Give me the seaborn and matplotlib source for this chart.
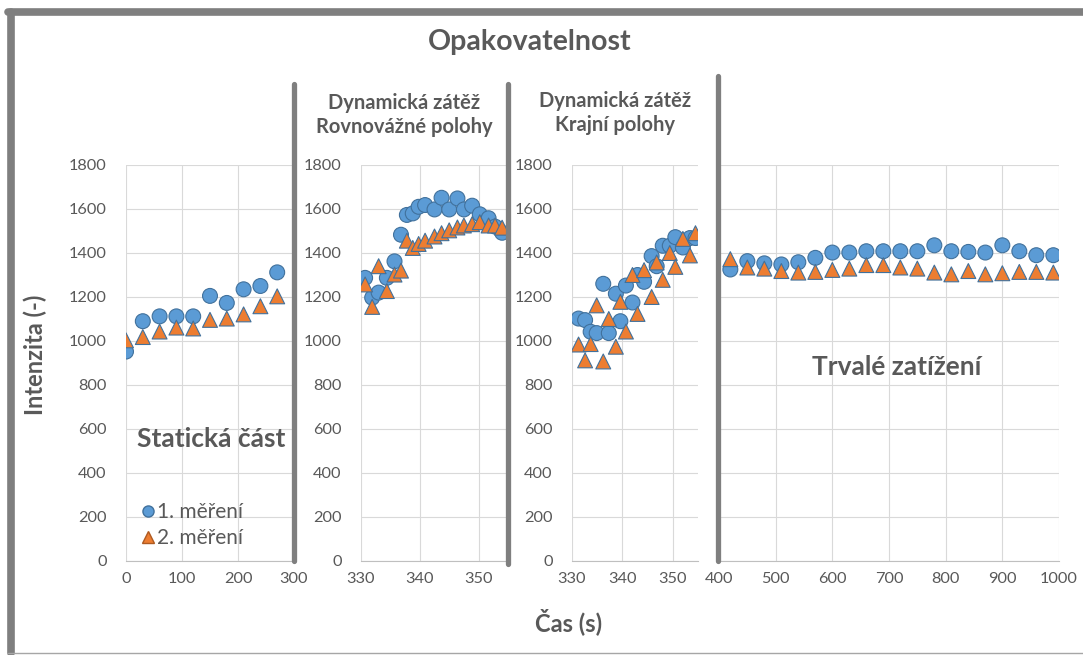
import matplotlib
matplotlib.use("Agg")
import matplotlib.pyplot as plt
from matplotlib.lines import Line2D
import seaborn as sns
import pandas as pd

# --- data ---
# static part
x_static = [0, 30, 60, 90, 120, 150, 180, 210, 240, 270]
m1_static = [952, 1090, 1112, 1112, 1112, 1205, 1173, 1235, 1250, 1312]
m2_static = [1003, 1018, 1043, 1061, 1057, 1096, 1102, 1121, 1158, 1203]

# dynamic load, equilibrium positions
x_eq = [330.7, 331.9, 333.0, 334.4, 335.7, 336.8, 337.8, 338.8, 339.8, 340.9,
        342.5, 343.7, 345.0, 346.4, 347.5, 348.9, 350.2, 351.7, 352.8, 354.0]
m1_eq = [1287, 1197, 1220, 1287, 1362, 1483, 1573, 1580, 1610, 1618,
         1598, 1651, 1598, 1648, 1598, 1615, 1576, 1558, 1520, 1492]
m2_eq = [1257, 1155, 1340, 1227, 1302, 1320, 1456, 1423, 1441, 1456,
         1475, 1490, 1503, 1516, 1525, 1531, 1540, 1525, 1525, 1515]

# dynamic load, extreme positions
x_ext = [331.3, 332.6, 333.7, 334.9, 336.2, 337.3, 338.7, 339.6, 340.7, 342.0,
         343.0, 344.3, 345.8, 346.8, 348.0, 349.4, 350.5, 352.0, 353.4, 354.5]
m1_ext = [1102, 1095, 1042, 1036, 1260, 1036, 1215, 1090, 1252, 1175,
          1300, 1269, 1386, 1340, 1433, 1433, 1472, 1425, 1468, 1468]
m2_ext = [984, 912, 986, 1162, 907, 1100, 974, 1178, 1043, 1300,
          1123, 1322, 1200, 1357, 1278, 1400, 1337, 1464, 1389, 1490]

# permanent load
x_perm = [420, 450, 480, 510, 540, 570, 600, 630, 660, 690,
          720, 750, 780, 810, 840, 870, 900, 930, 960, 990]
m1_perm = [1325, 1363, 1353, 1348, 1358, 1378, 1402, 1402, 1408, 1408,
           1408, 1408, 1435, 1408, 1405, 1402, 1435, 1408, 1390, 1390]
m2_perm = [1372, 1334, 1329, 1318, 1311, 1314, 1323, 1329, 1345, 1345,
           1334, 1329, 1311, 1303, 1318, 1303, 1308, 1314, 1314, 1311]

series_names = ["1. měření", "2. měření"]

sns.set_style("white")
plt.rcParams["font.family"] = ["Lato", "DejaVu Sans"]

GRAY_TXT = "#595959"
BLUE = "#5B9BD5"
ORANGE = "#ED7D31"


def to_frame(x, m1, m2):
    return pd.DataFrame({
        "x": list(x) + list(x),
        "y": list(m1) + list(m2),
        "serie": [series_names[0]] * len(x) + [series_names[1]] * len(x),
    })


W, H = 1083, 655
fig = plt.figure(figsize=(W / 100, H / 100), dpi=100)


def px_axes(x0, x1, y0=165, y1=561):
    return fig.add_axes([x0 / W, 1 - y1 / H, (x1 - x0) / W, (y1 - y0) / H])


panels = [
    (px_axes(126, 294), x_static, m1_static, m2_static, (0, 300), [0, 100, 200, 300], True),
    (px_axes(361, 508), x_eq, m1_eq, m2_eq, (330, 355), [330, 340, 350], True),
    (px_axes(572, 698), x_ext, m1_ext, m2_ext, (330, 355), [330, 340, 350], True),
    (px_axes(719, 1059), x_perm, m1_perm, m2_perm, (400, 1000), list(range(400, 1001, 100)), False),
]

for ax, x, m1, m2, xlim, xticks, show_y in panels:
    df = to_frame(x, m1, m2)
    sns.scatterplot(data=df, x="x", y="y", hue="serie", style="serie",
                    palette=[BLUE, ORANGE], markers=["o", "^"], s=115,
                    linewidth=0.8, edgecolor=None, ax=ax, legend=False, zorder=3)
    for coll, ec in zip(ax.collections, ["#41719C", "#AE5A21"]):
        coll.set_edgecolor(ec)
    ax.set_xlim(*xlim)
    ax.set_ylim(0, 1800)
    ax.set_xticks(xticks)
    ax.set_yticks(range(0, 1801, 200))
    ax.grid(True, color="#d9d9d9", linewidth=0.8, zorder=0)
    ax.set_axisbelow(True)
    for side in ["top", "right", "left"]:
        ax.spines[side].set_visible(False)
    ax.spines["bottom"].set_color("#bfbfbf")
    ax.tick_params(axis="both", length=0, labelsize=11.8, labelcolor=GRAY_TXT)
    ax.tick_params(axis="x", pad=8)
    ax.tick_params(axis="y", pad=14)
    if not show_y:
        ax.set_yticklabels([])
    ax.set_xlabel("")
    ax.set_ylabel("")

ax1 = panels[0][0]
handles = [
    Line2D([], [], marker="o", linestyle="", markerfacecolor=BLUE,
           markeredgecolor="#41719C", markersize=8),
    Line2D([], [], marker="^", linestyle="", markerfacecolor=ORANGE,
           markeredgecolor="#AE5A21", markersize=8),
]
ax1.legend(handles, series_names, loc="center left",
           bbox_to_anchor=((133 - 126) / 168, (561 - 525) / 396),
           frameon=False, fontsize=15, labelcolor=GRAY_TXT,
           handlelength=0.8, handletextpad=0.05, borderpad=0.3,
           borderaxespad=0, labelspacing=0.3)

# titles and labels
fig.text(530 / W, 1 - 42 / H, "Opakovatelnost", ha="center", va="center",
         fontsize=20.5, fontweight="bold", color=GRAY_TXT)
fig.text(404 / W, 1 - 115 / H, "Dynamická zátěž\nRovnovážné polohy", ha="center",
         va="center", fontsize=14.5, fontweight="bold", color=GRAY_TXT, linespacing=1.2)
fig.text(615 / W, 1 - 113 / H, "Dynamická zátěž\nKrajní polohy", ha="center",
         va="center", fontsize=14.5, fontweight="bold", color=GRAY_TXT, linespacing=1.2)
fig.text(211 / W, 1 - 439 / H, "Statická část", ha="center", va="center",
         fontsize=19, fontweight="bold", color=GRAY_TXT)
fig.text(897 / W, 1 - 367 / H, "Trvalé zatížení", ha="center", va="center",
         fontsize=19, fontweight="bold", color=GRAY_TXT)
fig.text(35 / W, 1 - 355 / H, "Intenzita (-)", ha="center", va="center",
         rotation=90, fontsize=17, fontweight="bold", color=GRAY_TXT)
fig.text(569 / W, 1 - 622 / H, "Čas (s)", ha="center", va="center",
         fontsize=17, fontweight="bold", color=GRAY_TXT)

# thick separators between sections
for xs, ytop, ybot in [(294, 84, 561), (508, 84, 564), (718, 76, 561)]:
    fig.add_artist(Line2D([xs / W, xs / W], [1 - ytop / H, 1 - ybot / H],
                          transform=fig.transFigure, color="#7f7f7f",
                          linewidth=3.8, solid_capstyle="round", zorder=5))

# outer frame (left and top thick, bottom thin)
fig.add_artist(Line2D([10.5 / W, 10.5 / W], [1 - 12 / H, 1 - 653 / H],
                      transform=fig.transFigure, color="#7f7f7f", linewidth=5.5))
fig.add_artist(Line2D([8 / W, 1.0], [1 - 12 / H, 1 - 12 / H],
                      transform=fig.transFigure, color="#7f7f7f", linewidth=5.5))
fig.add_artist(Line2D([8 / W, 1.0], [1 - 653 / H, 1 - 653 / H],
                      transform=fig.transFigure, color="#a6a6a6", linewidth=1.0))

fig.savefig("out.png", dpi=100)
